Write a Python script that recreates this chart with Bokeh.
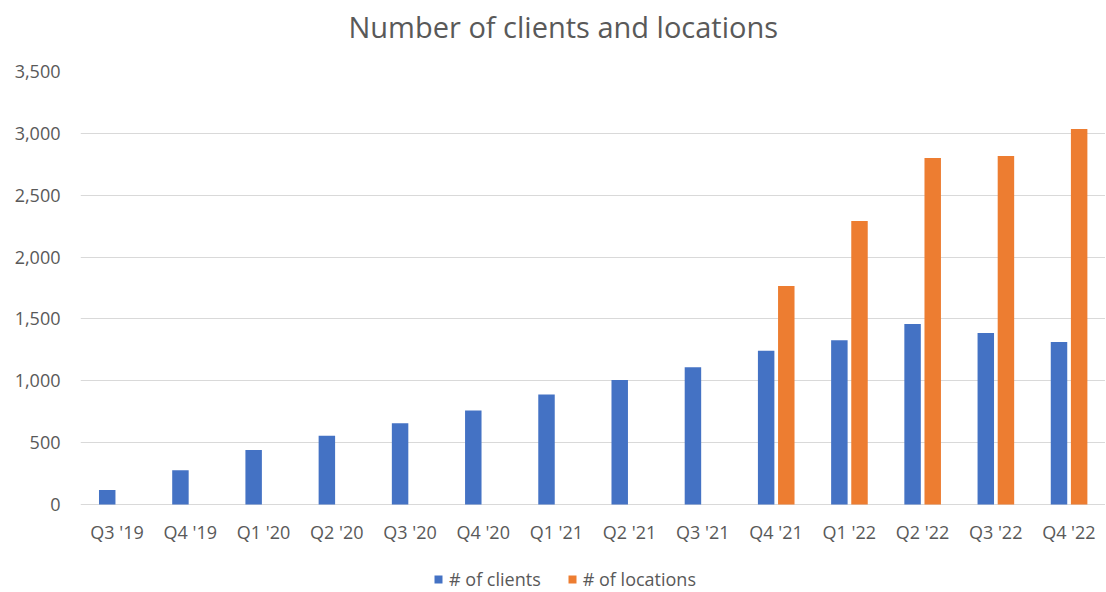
from bokeh.plotting import figure
from bokeh.models import (ColumnDataSource, FactorRange, Range1d, Legend, LegendItem,
                          NumeralTickFormatter, FixedTicker, Title)
from bokeh.core.properties import value
from bokeh.transform import dodge
from bokeh.embed import file_html
from bokeh.resources import INLINE

categories = ["Q3 '19", "Q4 '19", "Q1 '20", "Q2 '20", "Q3 '20", "Q4 '20", "Q1 '21",
              "Q2 '21", "Q3 '21", "Q4 '21", "Q1 '22", "Q2 '22", "Q3 '22", "Q4 '22"]
clients = [117, 278, 440, 555, 657, 760, 889, 1007, 1110, 1242, 1328, 1460, 1387, 1314]
locations = [None, None, None, None, None, None, None, None, None, 1767, 2292, 2801, 2818, 3036]
y_ticks = [0, 500, 1000, 1500, 2000, 2500, 3000, 3500]

FONT = "Open Sans"
TXT = "#595959"

src_c = ColumnDataSource(dict(cat=categories, val=clients))
loc_cats = [c for c, v in zip(categories, locations) if v is not None]
loc_vals = [v for v in locations if v is not None]
src_l = ColumnDataSource(dict(cat=loc_cats, val=loc_vals))

# frame extends below zero to hold category labels and legend (no side panels below)
p = figure(x_range=FactorRange(*categories, range_padding=0), y_range=Range1d(-711, 3500),
           frame_width=1025, frame_height=521, x_axis_location=None,
           min_border_left=80, min_border_right=0, min_border_top=71, min_border_bottom=0,
           output_backend="svg", toolbar_location=None, outline_line_color=None)

r1 = p.vbar(x=dodge("cat", -0.135, range=p.x_range), top="val", width=0.225,
            source=src_c, color="#4472C4", line_color=None)
r2 = p.vbar(x=dodge("cat", 0.14, range=p.x_range), top="val", width=0.225,
            source=src_l, color="#ED7D31", line_color=None)

# category labels under the bars
p.text(x="cat", y=-220, text="cat", source=src_c, text_font=value(FONT),
       text_font_size="18px", text_color=TXT, text_align="center", text_baseline="middle")

p.xgrid.grid_line_color = None
p.ygrid.grid_line_color = "#D9D9D9"
p.ygrid.grid_line_width = 1
p.yaxis.ticker = FixedTicker(ticks=y_ticks)
p.yaxis.formatter = NumeralTickFormatter(format="0,0")
ax = p.yaxis[0]
ax.axis_line_color = None
ax.major_tick_line_color = None
ax.minor_tick_line_color = None
ax.major_tick_out = 0
ax.major_tick_in = 0
ax.minor_tick_out = 0
ax.major_label_text_font = FONT
ax.major_label_text_font_size = "18px"
ax.major_label_text_color = TXT
ax.major_label_standoff = 20

p.add_layout(Title(text=" ", text_font_size="2px", standoff=22), "above")
p.add_layout(Title(text="Number of clients and locations", text_font=FONT,
                   text_font_size="29px", text_color=TXT, text_font_style="normal",
                   align="left", offset=268, standoff=0), "above")

legend = Legend(items=[LegendItem(label="# of clients", renderers=[r1]),
                       LegendItem(label="# of locations", renderers=[r2])],
                orientation="horizontal", location=(353, 1),
                border_line_color=None, background_fill_alpha=0,
                label_text_font=FONT, label_text_font_size="18px", label_text_color=TXT,
                glyph_width=10, glyph_height=10, label_standoff=6, spacing=26,
                padding=0, margin=0)
p.add_layout(legend)

open("out.html", "w").write(file_html(p, INLINE))
